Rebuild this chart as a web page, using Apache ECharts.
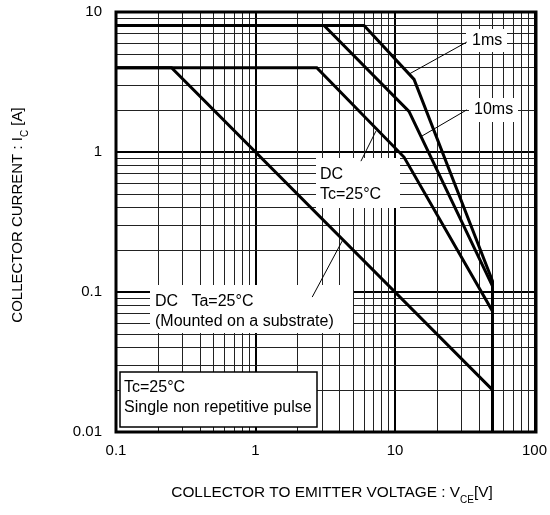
<!DOCTYPE html>
<html>
<head>
<meta charset="utf-8">
<script src="https://cdn.jsdelivr.net/npm/echarts@6/dist/echarts.min.js"></script>
<style>
html,body{margin:0;padding:0;background:#fff;}
#chart{width:550px;height:515px;}
</style>
</head>
<body>
<div id="chart"></div>
<script>
// ---- data ----
var pulse1ms  = [[0.1, 8], [6.0, 8], [13.7, 3.3], [50, 0.12], [50, 0.01]];
var pulse10ms = [[0.1, 8], [3.1, 8], [12.6, 1.95], [50, 0.11], [50, 0.01]];
var dcTc      = [[0.1, 4], [2.75, 4], [11.6, 0.92], [50, 0.073], [50, 0.01]];
var dcTa      = [[0.1, 4], [0.25, 4], [50, 0.02], [50, 0.01]];

var xTickLabels = ['0.1', '1', '10', '100'];
var yTickLabels = ['0.01', '0.1', '1', '10'];
var xDecades = [0.1, 1, 10];
var yDecades = [0.01, 0.1, 1];
var minorSteps = [2, 3, 4, 5, 6, 7, 8, 9];

// leader lines for annotations: [from curve point, to label point] in data units
var leaders = [
  [[12.6, 3.6], [32.7, 6.1]],
  [[15.6, 1.3], [32.7, 2.0]],
  [[7.3, 1.41], [5.7, 0.86]],
  [[4.18, 0.231], [2.55, 0.092]]
];

var FONT = '"Liberation Sans", Arial, sans-serif';

var chart = echarts.init(document.getElementById('chart'));

var minorLines = [];
xDecades.forEach(function (d) {
  minorSteps.forEach(function (m) {
    var v = +(m * d).toPrecision(6);
    minorLines.push([{coord: [v, 0.01]}, {coord: [v, 10]}]);
  });
});
yDecades.forEach(function (d) {
  minorSteps.forEach(function (m) {
    var v = +(m * d).toPrecision(6);
    minorLines.push([{coord: [0.1, v]}, {coord: [100, v]}]);
  });
});

function curve(name, data) {
  return {
    name: name, type: 'line', data: data, symbol: 'none', z: 5,
    lineStyle: {color: '#000', width: 3, join: 'miter'}, silent: true, clip: true
  };
}

var leaderLines = leaders.map(function (l) {
  return [{coord: l[0]}, {coord: l[1]}];
});

function idx(v) { return Math.round(Math.log10(v)); }

chart.setOption({
  animation: false,
  backgroundColor: '#fff',
  grid: {left: 116, top: 12, right: 14, bottom: 83, show: false},
  xAxis: {
    type: 'log', logBase: 10, min: 0.1, max: 100, interval: 1,
    axisLine: {show: false}, axisTick: {show: false},
    axisLabel: {
      margin: 11, color: '#000', fontFamily: FONT, fontSize: 15,
      formatter: function (v) { return xTickLabels[idx(v) + 1]; }
    },
    splitLine: {show: true, lineStyle: {color: '#000', width: 2}}
  },
  yAxis: {
    type: 'log', logBase: 10, min: 0.01, max: 10, interval: 1,
    axisLine: {show: false}, axisTick: {show: false},
    axisLabel: {
      margin: 14, color: '#000', fontFamily: FONT, fontSize: 15,
      formatter: function (v) { return yTickLabels[idx(v) + 2]; }
    },
    splitLine: {show: true, lineStyle: {color: '#000', width: 2}}
  },
  series: [
    {
      type: 'line', data: [], silent: true, z: 1,
      markLine: {
        silent: true, symbol: ['none', 'none'], animation: false,
        label: {show: false},
        lineStyle: {color: '#222', width: 1, type: 'solid'},
        data: minorLines
      }
    },
    curve('1ms', pulse1ms),
    curve('10ms', pulse10ms),
    curve('DC Tc=25°C', dcTc),
    curve('DC Ta=25°C', dcTa),
    {
      type: 'line', data: [], silent: true, z: 20,
      markLine: {
        silent: true, symbol: ['none', 'none'], animation: false, z: 20,
        label: {show: false},
        lineStyle: {color: '#000', width: 1, type: 'solid'},
        data: leaderLines
      }
    }
  ],
  graphic: [
    // label backgrounds
    {type: 'rect', z: 10, shape: {x: 466, y: 29, width: 41, height: 23}, style: {fill: '#fff'}},
    {type: 'rect', z: 10, shape: {x: 469, y: 98, width: 49, height: 24}, style: {fill: '#fff'}},
    {type: 'rect', z: 10, shape: {x: 316, y: 158, width: 84, height: 50}, style: {fill: '#fff'}},
    {type: 'rect', z: 10, shape: {x: 150, y: 285, width: 203, height: 48}, style: {fill: '#fff'}},
    {type: 'rect', z: 10, shape: {x: 120, y: 372, width: 197, height: 55}, style: {fill: '#fff', stroke: '#000', lineWidth: 1.5}},
    // label texts
    {type: 'text', z: 30, x: 472, y: 41, style: {text: '1ms', font: '16px ' + FONT, fill: '#000', verticalAlign: 'middle'}},
    {type: 'text', z: 30, x: 474, y: 110, style: {text: '10ms', font: '16px ' + FONT, fill: '#000', verticalAlign: 'middle'}},
    {type: 'text', z: 30, x: 320, y: 175, style: {text: 'DC', font: '16px ' + FONT, fill: '#000', verticalAlign: 'middle'}},
    {type: 'text', z: 30, x: 320, y: 195, style: {text: 'Tc=25°C', font: '16px ' + FONT, fill: '#000', verticalAlign: 'middle'}},
    {type: 'text', z: 30, x: 155, y: 302, style: {text: 'DC   Ta=25°C', font: '16px ' + FONT, fill: '#000', verticalAlign: 'middle'}},
    {type: 'text', z: 30, x: 155, y: 322, style: {text: '(Mounted on a substrate)', font: '16px ' + FONT, fill: '#000', verticalAlign: 'middle'}},
    {type: 'text', z: 30, x: 124, y: 388, style: {text: 'Tc=25°C', font: '16px ' + FONT, fill: '#000', verticalAlign: 'middle'}},
    {type: 'text', z: 30, x: 124, y: 408, style: {text: 'Single non repetitive pulse', font: '16px ' + FONT, fill: '#000', verticalAlign: 'middle'}},
    // frame
    {type: 'rect', z: 40, shape: {x: 116, y: 12, width: 420, height: 420}, style: {fill: null, stroke: '#000', lineWidth: 3}},
    // axis titles
    {
      type: 'text', z: 30, x: 332, y: 493,
      style: {
        text: '{a|COLLECTOR TO EMITTER VOLTAGE : V}{s|CE}{a|[V]}',
        align: 'center', verticalAlign: 'middle',
        rich: {
          a: {fontSize: 15.4, fontFamily: FONT, fill: '#000', lineHeight: 18},
          s: {fontSize: 10, fontFamily: FONT, fill: '#000', verticalAlign: 'bottom', lineHeight: 18, padding: [0, 0, -3, 0]}
        }
      }
    },
    {
      type: 'text', z: 30, x: 18, y: 215, rotation: Math.PI / 2,
      style: {
        text: '{a|COLLECTOR CURRENT : I}{s|C}{a| [A]}',
        align: 'center', verticalAlign: 'middle',
        rich: {
          a: {fontSize: 15, fontFamily: FONT, fill: '#000', lineHeight: 18},
          s: {fontSize: 10, fontFamily: FONT, fill: '#000', verticalAlign: 'bottom', lineHeight: 18, padding: [0, 0, -3, 0]}
        }
      }
    }
  ]
});
</script>
</body>
</html>
